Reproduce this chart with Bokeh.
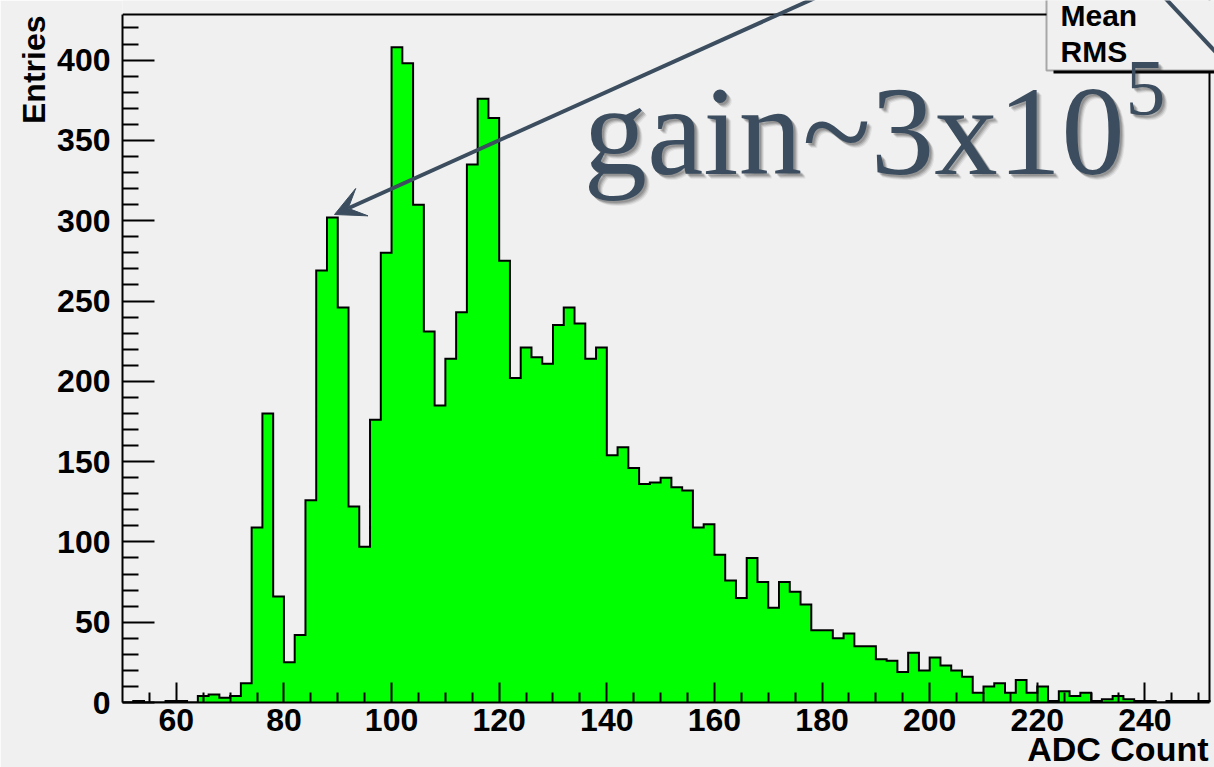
import numpy as np
from bokeh.plotting import figure
from bokeh.models import (Range1d, FixedTicker, Label, Arrow, VeeHead, BoxAnnotation,
                          Span, Title)
from bokeh.embed import file_html
from bokeh.resources import INLINE

# ---------------- data ----------------
bin_low = 50
bin_width = 2
counts = [
    0, 1, 0, 0, 1, 1, 0, 4, 5, 3,            # 50-70
    4, 12, 109, 180, 66, 25, 42, 126, 269, 302,  # 70-90
    246, 122, 97, 176, 280, 408, 398, 310, 231, 185,  # 90-110
    214, 243, 335, 376, 364, 275, 202, 221, 215, 211,  # 110-130
    235, 246, 236, 214, 221, 154, 159, 146, 136, 137,  # 130-150
    140, 134, 132, 109, 111, 92, 76, 65, 90, 75,       # 150-170
    59, 75, 69, 61, 45, 45, 40, 43, 35, 35,            # 170-190
    27, 26, 19, 31, 20, 28, 23, 20, 16, 6,             # 190-210
    10, 12, 6, 14, 6, 10, 1, 7, 4, 6,                  # 210-230
    1, 2, 4, 2, 1, 1, 0, 1, 1, 1,                      # 230-250
    1,                                                 # 250-252
]
x_major = [60, 80, 100, 120, 140, 160, 180, 200, 220, 240]
x_minor = [55, 65, 70, 75, 85, 90, 95, 105, 110, 115, 125, 130, 135, 145, 150, 155,
           165, 170, 175, 185, 190, 195, 205, 210, 215, 225, 230, 235, 245, 250]
y_major = [0, 50, 100, 150, 200, 250, 300, 350, 400]
y_minor = [10, 20, 30, 40, 60, 70, 80, 90, 110, 120, 130, 140, 160, 170, 180, 190,
           210, 220, 230, 240, 260, 270, 280, 290, 310, 320, 330, 340, 360, 370, 380,
           390, 410, 420]
x_title = "ADC Count"
y_title = "Entries"
annotation_text = "gain~3x10"
annotation_exp = "5"

# ---------------- geometry ----------------
W, H = 1214, 767
AX_L, AX_R, AX_T, AX_B = 122, 1209, 14, 702   # histogram frame box (pixels)
n_bins = len(counts)
hx0 = bin_low
hx1 = bin_low + n_bins * bin_width
hy0, hy1 = 0, max(counts) * 1.05
sx = (AX_R - AX_L) / (hx1 - hx0)
sy = (AX_B - AX_T) / (hy1 - hy0)
# bokeh frame spans to the canvas top / right so that overlays are not clipped
fx1 = hx0 + (W - AX_L) / sx
fy1 = hy0 + AX_B / sy


def px2x(px):
    return hx0 + (px - AX_L) / sx


def px2y(py):
    return hy0 + (AX_B - py) / sy


BG = "#f0f0f0"
SLATE = "#3b4d5e"

p = figure(width=W, height=H, x_range=Range1d(hx0, fx1), y_range=Range1d(hy0, fy1),
           output_backend="svg", toolbar_location=None,
           min_border_left=AX_L, min_border_right=0,
           min_border_top=0, min_border_bottom=H - AX_B)
p.background_fill_color = BG
p.border_fill_color = BG
p.outline_line_color = None
p.xgrid.visible = False
p.ygrid.visible = False

# step outline built from bins
xs = [hx0]
ys = [0]
for i, c in enumerate(counts):
    l = bin_low + i * bin_width
    xs += [l, l + bin_width]
    ys += [c, c]
xs.append(hx1)
ys.append(0)

p.varea(x=xs, y1=[0] * len(xs), y2=ys, fill_color="#00ff00")
p.line(xs, ys, line_color="black", line_width=2, line_join="miter")

# frame top / right lines
p.add_layout(Span(location=hy1, dimension="width", line_color="black", line_width=2))
p.add_layout(Span(location=hx1, dimension="height", line_color="black", line_width=2))

# axes
for ax, maj, mnr, bnd in ((p.xaxis[0], x_major, x_minor, (hx0, hx1)),
                          (p.yaxis[0], y_major, y_minor, (hy0, hy1))):
    ax.ticker = FixedTicker(ticks=maj, minor_ticks=mnr)
    ax.bounds = bnd
    ax.major_tick_out = 0
    ax.minor_tick_out = 0
    ax.axis_line_color = "black"
    ax.axis_line_width = 2
    ax.major_tick_line_width = 2
    ax.minor_tick_line_width = 2
    ax.major_tick_line_color = "black"
    ax.minor_tick_line_color = "black"
    ax.major_label_text_font = "Liberation Sans"
    ax.major_label_text_font_style = "bold"
    ax.major_label_text_font_size = "32px"
    ax.major_label_text_color = "black"

p.xaxis.major_tick_in = 20
p.xaxis.minor_tick_in = 10
p.yaxis.major_tick_in = 32
p.yaxis.minor_tick_in = 16
p.xaxis.major_label_standoff = 6
p.yaxis.major_label_standoff = 12

# axis titles as side-panel titles, right aligned (ROOT style)
p.add_layout(Title(text=x_title, align="right", offset=W - 1208, standoff=-11,
                   text_font="Liberation Sans", text_font_style="bold",
                   text_font_size="34px", text_color="black"), "below")
p.add_layout(Title(text=y_title, align="right", offset=15, standoff=5,
                   text_font="Liberation Sans", text_font_style="bold",
                   text_font_size="32px", text_color="black"), "left")

# baseline correction for labels (em fraction)
BC = 0.36


def lab(xp, yp, text, size, font, style="normal", color="black", alpha=1.0):
    return Label(x=px2x(xp), y=px2y(yp - BC * size), text=text, text_align="left",
                 text_baseline="alphabetic", text_font=font, text_font_style=style,
                 text_font_size=f"{size}px", text_color=color, text_alpha=alpha)


# stats box (partially visible)
p.add_layout(BoxAnnotation(left=px2x(1053), right=px2x(1260), top=px2y(60), bottom=px2y(73),
                           fill_color="black", fill_alpha=1, line_alpha=0))
p.add_layout(BoxAnnotation(left=px2x(1046), right=px2x(1260), top=px2y(-30), bottom=px2y(70),
                           fill_color=BG, fill_alpha=1, line_color="black", line_width=2))
p.add_layout(lab(1060, 26, "Mean", 30, "Liberation Sans", "bold"))
p.add_layout(lab(1060, 62, "RMS", 30, "Liberation Sans", "bold"))

# annotation text with soft shadow
for dx, a in ((5, 0.08), (4, 0.12), (3, 0.16), (2, 0.18)):
    p.add_layout(lab(583 + dx, 176 + dx, annotation_text, 127, "Liberation Serif",
                     color="#202020", alpha=a))
    p.add_layout(lab(1125 + dx, 117 + dx, annotation_exp, 80, "Liberation Serif",
                     color="#202020", alpha=a))
p.add_layout(lab(583, 176, annotation_text, 127, "Liberation Serif", color=SLATE))
p.add_layout(lab(1125, 117, annotation_exp, 80, "Liberation Serif", color=SLATE))

# arrows
p.add_layout(Arrow(x_start=px2x(840), y_start=px2y(-14), x_end=px2x(334), y_end=px2y(214),
                   line_color=SLATE, line_width=4,
                   end=VeeHead(size=30, fill_color=SLATE, line_color=SLATE, line_width=1)))
p.add_layout(Arrow(x_start=px2x(1150), y_start=px2y(-18), x_end=px2x(1240), y_end=px2y(78),
                   line_color=SLATE, line_width=4, end=None))

open("out.html", "w").write(file_html(p, INLINE))
